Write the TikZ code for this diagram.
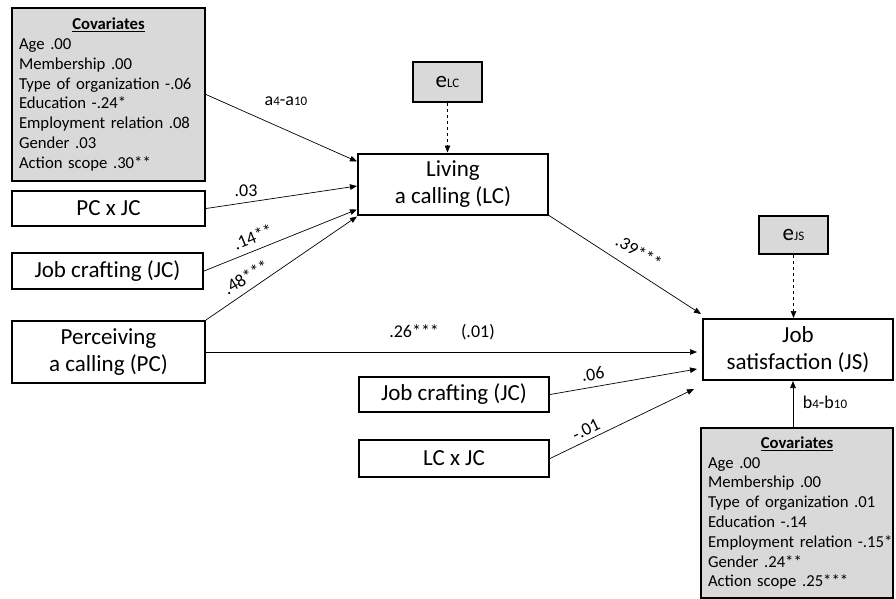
\documentclass[tikz,border=0pt]{standalone}
\usepackage{fontspec}
\setmainfont{Carlito}
\usetikzlibrary{arrows.meta}

\definecolor{covgray}{RGB}{217,217,217}

\tikzset{
	var/.style={draw, line width=2pt, align=center, inner sep=0pt,
		font=\fontsize{23}{27}\selectfont},
	covbox/.style={draw, fill=covgray, line width=2pt, align=left,
		inner xsep=7pt, inner ysep=0pt, font=\fontsize{16.7}{19.8}\selectfont},
	errbox/.style={draw, fill=covgray, line width=2pt, inner sep=0pt},
	effect/.style={-{Triangle[length=7pt,width=5.5pt]}, line width=0.7pt},
	resid/.style={effect, dashed},
	coef/.style={inner sep=0pt, font=\fontsize{18}{20}\selectfont},
}

\newcommand{\smallsub}[1]{{\fontsize{13}{14}\selectfont #1}}

\begin{document}
\begin{tikzpicture}[x=1pt, y=-1pt]
	\useasboundingbox (0,0) rectangle (896,599);
	
	% left side
	\node[covbox, text width=179pt, minimum height=172pt] (cova) at (108.5,94.5)
	{\makebox[\linewidth]{\underline{\textbf{Covariates}}}\\
		Age .00\\ Membership .00\\ Type of organization -.06\\ Education -.24*\\
		Employment relation .08\\ Gender .03\\ Action scope .30**};
	\node[var, minimum width=193pt, minimum height=35pt] (pcjc) at (108.5,208.5) {PC x JC};
	\node[var, minimum width=191pt, minimum height=36pt] (jca) at (107.5,271) {Job crafting (JC)};
	\node[var, minimum width=193pt, minimum height=62pt] (pc) at (108.5,352) {Perceiving\\ a calling (PC)};
	
	% mediator
	\node[var, minimum width=190pt, minimum height=61pt] (lc) at (453,184) {Living\\ a calling (LC)};
	\node[errbox, minimum width=69pt, minimum height=40pt] (elc) at (447.5,82)
	{{\fontsize{23}{24}\selectfont e}\smallsub{LC}};
	
	% outcome
	\node[var, minimum width=190pt, minimum height=61pt] (js) at (798,349.5) {Job\\ satisfaction (JS)};
	\node[errbox, minimum width=69pt, minimum height=38pt] (ejs) at (793.5,235)
	{{\fontsize{23}{24}\selectfont e}\smallsub{JS}};
	\node[var, minimum width=190pt, minimum height=35pt] (jcb) at (454,394.5) {Job crafting (JC)};
	\node[var, minimum width=190pt, minimum height=37pt] (lcjc) at (454,458.5) {LC x JC};
	\node[covbox, text width=178pt, minimum height=170pt] (covb) at (797,513)
	{\makebox[\linewidth]{\underline{\textbf{Covariates}}}\\
		Age .00\\ Membership .00\\ Type of organization .01\\ Education -.14\\
		\mbox{Employment relation -.15*}\\ Gender .24**\\ Action scope .25***};
	
	% paths to LC
	\draw[effect] (cova.east) -- ([yshift=-9pt]lc.north west);
	\draw[effect] (pcjc.east) -- ([yshift=-2pt]lc.west);
	\draw[effect] (jca.east) -- ([yshift=6pt]lc.south west);
	\draw[effect] (pc.north east) -- ([yshift=-1pt]lc.south west);
	\draw[resid] (elc.south) -- (elc.south |- lc.north);
	
	% paths to JS
	\draw[effect] (lc.south east) -- ([xshift=-1pt,yshift=4pt]js.north west);
	\draw[effect] (pc.east) -- ([xshift=-5pt]pc.east -| js.west);
	\draw[effect] (jcb.east) -- ([xshift=-5pt,yshift=12pt]js.south west);
	\draw[effect] (lcjc.east) -- ([xshift=-8pt,yshift=-8pt]js.south west);
	\draw[resid] (ejs.south) -- (ejs.south |- js.north);
	\draw[effect] ([xshift=-4pt]covb.north) -- ([xshift=-4pt]covb.north |- js.south);
	
	% coefficients
	\node[coef] (la) at (286,101) {a\smallsub{4}-a\smallsub{10}};
	\node[coef] (l03) at (246,191) {.03};
	\node[coef, rotate=22] (l14) at (253,237) {.14**};
	\node[coef, rotate=31] (l48) at (246,277) {.48***};
	\node[coef, rotate=-31] (l39) at (639,252) {.39***};
	\node[coef] (l26) at (442,332) {.26***\quad\ (.01)};
	\node[coef, rotate=9] (l06) at (593,374) {.06};
	\node[coef, rotate=26] (l01) at (586,430) {-.01};
	\node[coef] (lb) at (825,402) {b\smallsub{4}-b\smallsub{10}};
\end{tikzpicture}
\end{document}
